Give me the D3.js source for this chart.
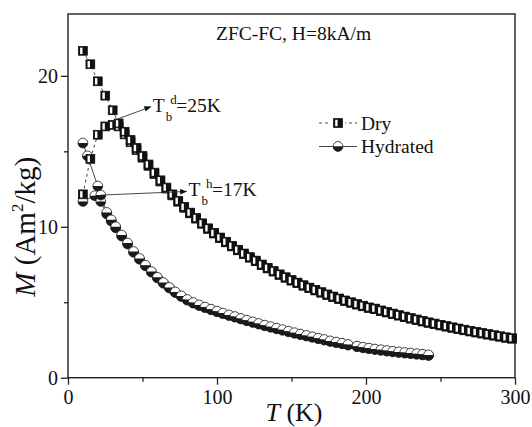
<!DOCTYPE html>
<html>
<head>
<meta charset="utf-8">
<script src="https://cdn.jsdelivr.net/npm/d3@7"></script>
<style>
  html, body { margin: 0; padding: 0; background: #fff; }
  svg { display: block; }
  text { font-family: "Liberation Serif", "Times New Roman", serif; fill: #111; }
</style>
</head>
<body>
<svg id="chart" width="532" height="427"></svg>
<script>
// ---- data: ZFC / FC magnetisation, M in Am^2/kg vs T in K ----
const dryT = [10, 15, 20, 25, 30, 34, 38, 42, 46, 50, 54, 58, 62, 66, 70, 74, 78, 82, 86, 90,
  94, 98, 102, 106, 110, 114, 118, 122, 126, 130, 134, 138, 142, 146, 150, 154, 158, 162, 166, 170,
  174, 178, 182, 186, 190, 194, 198, 202, 206, 210, 214, 218, 222, 226, 230, 234, 238, 242, 246, 250,
  254, 258, 262, 266, 270, 274, 278, 282, 286, 290, 294, 298];
const dryFc = [21.66, 20.77, 19.64, 18.69, 17.72, 16.85, 16.3, 15.75, 15.22, 14.69, 14.13, 13.59, 13.08, 12.6, 12.15, 11.72, 11.32, 10.94, 10.58, 10.23,
  9.9, 9.59, 9.29, 9.01, 8.74, 8.48, 8.23, 7.99, 7.76, 7.5, 7.28, 7.07, 6.85, 6.66, 6.47, 6.3, 6.13, 5.97, 5.82, 5.67,
  5.52, 5.38, 5.25, 5.12, 5.0, 4.88, 4.77, 4.66, 4.58, 4.46, 4.36, 4.25, 4.15, 4.05, 3.95, 3.86, 3.76, 3.67, 3.59, 3.5,
  3.42, 3.34, 3.26, 3.18, 3.1, 3.03, 2.96, 2.89, 2.82, 2.75, 2.68, 2.62];
const dryZfc = [12.15, 14.5, 16.1, 16.65, 16.75, 16.65, 16.12, 15.6, 15.08, 14.58, 14.04, 13.5, 13.0, 12.53, 12.08, 11.66, 11.26, 10.89, 10.54, 10.2,
  9.86, 9.55, 9.25, 8.97, 8.7, 8.44, 8.19, 7.95, 7.72, 7.46, 7.24, 7.03, 6.81, 6.62, 6.43, 6.26, 6.09, 5.93, 5.78, 5.63,
  5.48, 5.34, 5.21, 5.08, 4.96, 4.84, 4.73, 4.62, 4.54, 4.42, 4.32, 4.21, 4.11, 4.01, 3.91, 3.82, 3.72, 3.63, 3.55, 3.46,
  3.38, 3.3, 3.22, 3.14, 3.06, 2.99, 2.92, 2.85, 2.78, 2.71, 2.64, 2.58];

// hydrated sample: separate low-temperature branches, then a common temperature grid
const hydFcLowT = [10, 13, 20, 22];
const hydFcLow = [15.55, 14.7, 12.7, 12.1];
const hydZfcLowT = [10, 18, 22];
const hydZfcLow = [11.68, 12.06, 11.68];
const hydT = [26, 29, 32, 36, 40, 44, 48, 52, 56, 60, 64, 68, 72, 76, 80, 84, 88, 92, 96, 100,
  104, 108, 112, 116, 120, 124, 128, 132, 136, 140, 144, 148, 152, 156, 160, 164, 168, 172, 176, 180,
  184, 188, 194, 198, 202, 206, 210, 214, 218, 222, 226, 230, 234, 238, 242];
const hydFc = [10.95, 10.46, 10.0, 9.45, 8.92, 8.36, 7.9, 7.45, 7.03, 6.65, 6.3, 5.98, 5.68, 5.42, 5.18, 4.98, 4.82, 4.68, 4.54, 4.41,
  4.28, 4.16, 4.05, 3.93, 3.81, 3.7, 3.59, 3.48, 3.38, 3.28, 3.18, 3.08, 2.98, 2.89, 2.8, 2.71, 2.62, 2.53, 2.44, 2.36,
  2.28, 2.2, 2.09, 2.02, 1.96, 1.9, 1.85, 1.8, 1.75, 1.71, 1.67, 1.63, 1.59, 1.55, 1.51];
const hydZfc = [10.85, 10.38, 9.93, 9.38, 8.86, 8.31, 7.85, 7.41, 6.99, 6.61, 6.26, 5.94, 5.64, 5.38, 5.14, 4.94, 4.78, 4.64, 4.5, 4.37,
  4.24, 4.12, 4.01, 3.89, 3.77, 3.66, 3.55, 3.44, 3.34, 3.24, 3.14, 3.04, 2.94, 2.85, 2.76, 2.67, 2.58, 2.49, 2.4, 2.32,
  2.24, 2.16, 2.05, 1.98, 1.92, 1.86, 1.81, 1.76, 1.71, 1.67, 1.63, 1.59, 1.55, 1.51, 1.47];

const xMajor = [0, 100, 200, 300];
const xMinor = [50, 150, 250];
const yMajor = [0, 10, 20];
const yMinor = [5, 15];

// blocking-temperature annotations: arrow from (t0,m0) to (t1,m1), label after the tip
const blocking = [
  { sup: "d", value: "=25K", t0: 28, m0: 16.95, t1: 55.5, m1: 17.95 },
  { sup: "h", value: "=17K", t0: 22.3, m0: 12.1, t1: 79.5, m1: 12.34 }
];

// ---- layout ----
const svg = d3.select("#chart");
const W = 532, H = 427;
const plot = { left: 68, right: 515, top: 14, bottom: 377.7 };

const x = d3.scaleLinear().domain([0, 300]).range([plot.left, plot.right]);
const y = d3.scaleLinear().domain([0, 24.1]).range([plot.bottom, plot.top]);

svg.append("rect").attr("width", W).attr("height", H).attr("fill", "#fff");

const zip = (ts, ms) => ts.map((t, i) => ({ t, m: ms[i] }));
const dryFcPts = zip(dryT, dryFc);
const dryZfcPts = zip(dryT, dryZfc);
const hydFcPts = zip(hydFcLowT, hydFcLow).concat(zip(hydT, hydFc));
const hydZfcPts = zip(hydZfcLowT, hydZfcLow).concat(zip(hydT, hydZfc));

const line = d3.line().x(d => x(d.t)).y(d => y(d.m));

// ---- frame & axes ----
const axisColor = "#222";
svg.append("rect")
  .attr("x", plot.left).attr("y", plot.top)
  .attr("width", plot.right - plot.left).attr("height", plot.bottom - plot.top)
  .attr("fill", "none").attr("stroke", axisColor).attr("stroke-width", 1.4);

function styleAxis(g) {
  g.select(".domain").remove();
  g.selectAll(".tick line").attr("stroke", axisColor).attr("stroke-width", 1.3);
  g.selectAll(".tick text").style("font-size", "20px").attr("fill", "#111");
}

svg.append("g").attr("transform", `translate(0,${plot.bottom})`)
  .call(d3.axisBottom(x).tickValues(xMajor).tickSize(7).tickPadding(5).tickFormat(d3.format("d")))
  .call(styleAxis);
svg.append("g").attr("transform", `translate(0,${plot.bottom})`)
  .call(d3.axisBottom(x).tickValues(xMinor).tickSize(4).tickFormat(""))
  .call(styleAxis);
svg.append("g").attr("transform", `translate(${plot.left},0)`)
  .call(d3.axisLeft(y).tickValues(yMajor).tickSize(7).tickPadding(3).tickFormat(d3.format("d")))
  .call(styleAxis);
svg.append("g").attr("transform", `translate(${plot.left},0)`)
  .call(d3.axisLeft(y).tickValues(yMinor).tickSize(4).tickFormat(""))
  .call(styleAxis);

// axis titles
const xTitle = svg.append("text")
  .attr("x", 294).attr("y", 421)
  .attr("text-anchor", "middle").style("font-size", "26px");
xTitle.append("tspan").style("font-style", "italic").text("T");
xTitle.append("tspan").text(" (K)");

const yTitle = svg.append("text")
  .attr("transform", `translate(35,${y(10)}) rotate(-90)`)
  .attr("text-anchor", "middle").style("font-size", "29px");
yTitle.append("tspan").style("font-style", "italic").text("M");
yTitle.append("tspan").text(" (Am");
yTitle.append("tspan").attr("dy", -12).style("font-size", "17px").text("2");
yTitle.append("tspan").attr("dy", 12).text("/kg)");

// title inside the frame
svg.append("text").attr("x", 216).attr("y", 40)
  .style("font-size", "19.5px").text("ZFC-FC, H=8kA/m");

// ---- markers ----
function drawSquare(g) {
  g.append("rect").attr("x", -4.4).attr("y", -4.4).attr("width", 8.8).attr("height", 8.8)
    .attr("fill", "#111").attr("stroke", "#111").attr("stroke-width", 0.8);
  g.append("rect").attr("x", -2.8).attr("y", -3.2).attr("width", 2.4).attr("height", 6.4)
    .attr("fill", "#fff");
}
const R = 4.9;
const topHalf = `M${-R},0 A${R},${R} 0 0 1 ${R},0 Z`;
const bottomHalf = `M${-R},0 A${R},${R} 0 0 0 ${R},0 Z`;
function drawCircle(g) {
  g.append("path").attr("d", topHalf).attr("fill", "#fff");
  g.append("path").attr("d", bottomHalf).attr("fill", "#1a1a1a");
  g.append("circle").attr("r", R).attr("fill", "none").attr("stroke", "#1a1a1a").attr("stroke-width", 0.8);
}

function drawSeries(pts, dashed) {
  svg.append("path").datum(pts).attr("d", line)
    .attr("fill", "none").attr("stroke", "#333").attr("stroke-width", 0.9)
    .attr("stroke-dasharray", dashed ? "3,3" : null);
}
function drawMarkers(pts, marker) {
  svg.append("g").selectAll("g").data(pts).join("g")
    .attr("transform", d => `translate(${x(d.t)},${y(d.m)})`)
    .each(function () { marker(d3.select(this)); });
}

// hydrated (solid line, half-filled circles)
drawSeries(hydZfcPts, false);
drawSeries(hydFcPts, false);
drawMarkers(hydZfcPts, drawCircle);
drawMarkers(hydFcPts, drawCircle);

// dry (dashed line, half-filled squares)
drawSeries(dryZfcPts, true);
drawSeries(dryFcPts, true);
drawMarkers(dryZfcPts, drawSquare);
drawMarkers(dryFcPts, drawSquare);

// ---- blocking temperature annotations ----
svg.append("defs").append("marker")
  .attr("id", "arrowHead").attr("viewBox", "0 0 10 10")
  .attr("refX", 9).attr("refY", 5)
  .attr("markerWidth", 9).attr("markerHeight", 7)
  .attr("markerUnits", "userSpaceOnUse")
  .attr("orient", "auto")
  .append("path").attr("d", "M0,1 L10,5 L0,9 Z").attr("fill", "#111");

blocking.forEach(b => {
  const x1 = x(b.t1), y1 = y(b.m1);
  svg.append("line")
    .attr("x1", x(b.t0)).attr("y1", y(b.m0)).attr("x2", x1).attr("y2", y1)
    .attr("stroke", "#333").attr("stroke-width", 0.9)
    .attr("marker-end", "url(#arrowHead)");
  const tx = x1 + 2, ty = y1 + 5;
  svg.append("text").attr("x", tx).attr("y", ty).style("font-size", "19.5px").text("T");
  svg.append("text").attr("x", tx + 13).attr("y", ty + 9).style("font-size", "13px").attr("fill", "#111").text("b");
  svg.append("text").attr("x", tx + 17.5).attr("y", ty - 8).style("font-size", "13px").attr("fill", "#111").text(b.sup);
  svg.append("text").attr("x", tx + 23.5).attr("y", ty).style("font-size", "19.5px").text(b.value);
});

// ---- legend ----
const legend = svg.append("g");
const legendRows = [
  { label: "Dry", dashed: true, marker: drawSquare, y: 123 },
  { label: "Hydrated", dashed: false, marker: drawCircle, y: 146.5 }
];
legendRows.forEach(r => {
  legend.append("line").attr("x1", 319).attr("x2", 357).attr("y1", r.y).attr("y2", r.y)
    .attr("stroke", "#333").attr("stroke-width", 0.9)
    .attr("stroke-dasharray", r.dashed ? "3,3" : null);
  const m = legend.append("g").attr("transform", `translate(338,${r.y})`);
  if (r.dashed) m.append("rect").attr("x", -7).attr("y", -5).attr("width", 14).attr("height", 10).attr("fill", "#fff");
  r.marker(m);
  legend.append("text").attr("x", 361).attr("y", r.y + 6.5).style("font-size", "19.5px").text(r.label);
});
</script>
</body>
</html>
